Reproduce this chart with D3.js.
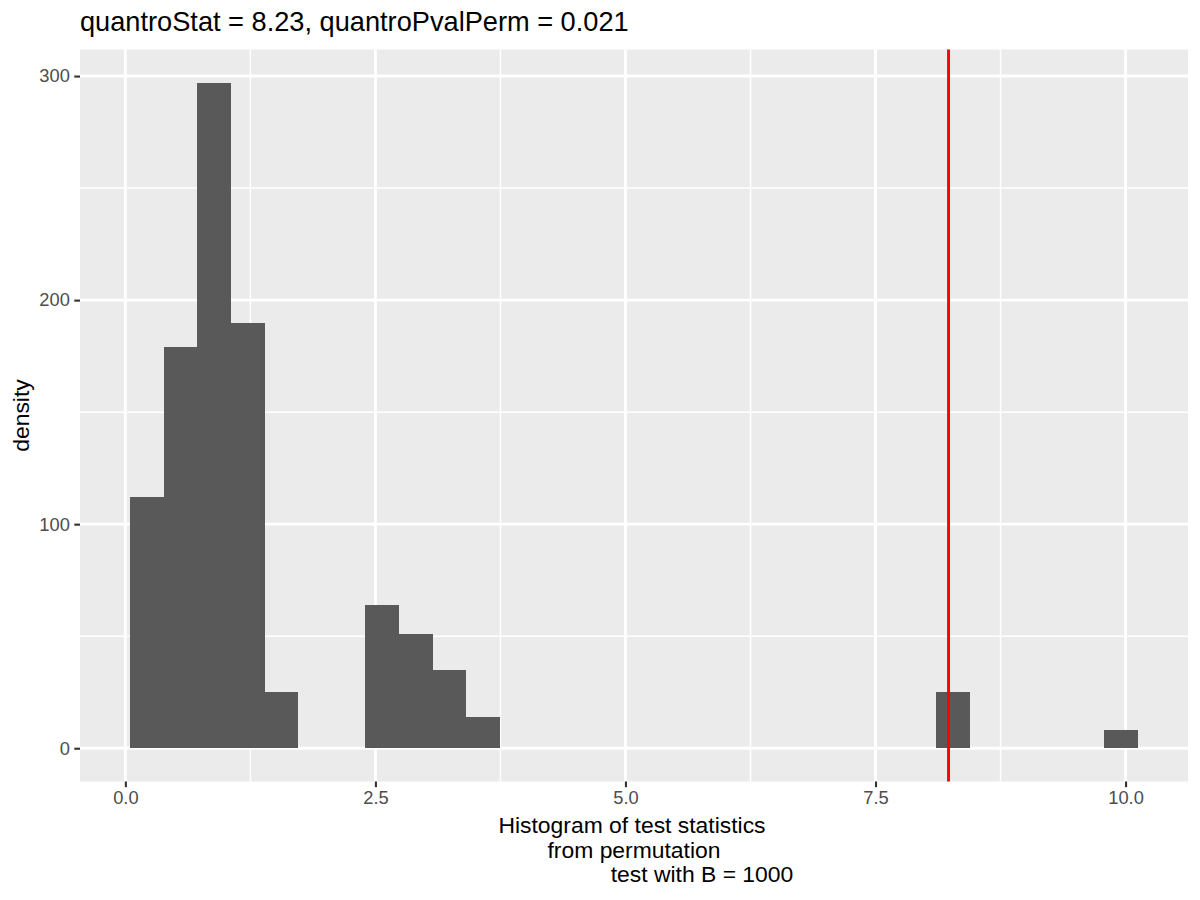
<!DOCTYPE html>
<html lang="en">
<head>
<meta charset="utf-8">
<title>quantro permutation histogram</title>
<script src="https://d3js.org/d3.v7.min.js"></script>
<style>
  body { margin: 0; background: #fff; }
  text { font-family: "Liberation Sans", Arial, sans-serif; }
</style>
</head>
<body>
<script>
// bins (only the non-empty ones)
var binStart = [0.05, 0.386, 0.721, 1.057, 1.393, 2.40, 2.736, 3.071, 3.407, 8.107, 9.785];
var binCount = [112, 179, 297, 190, 25, 64, 51, 35, 14, 25, 8];
var binWidth = 0.3357;
var quantroStat = 8.23;

var xTicks = [0, 2.5, 5, 7.5, 10];
var xMinor = [1.25, 3.75, 6.25, 8.75];
var yTicks = [0, 100, 200, 300];
var yMinor = [50, 150, 250];

var titleText = "quantroStat = 8.23, quantroPvalPerm = 0.021";
var xLabelLines = ["Histogram of test statistics", "from permutation", "test with B = 1000"];

var W = 1200, H = 900;
var panel = { left: 80, right: 1188, top: 49.5, bottom: 781.5 };

var svg = d3.select("body").append("svg")
  .attr("width", W)
  .attr("height", H);

// ggplot style 5% expansion on both scales
var xLo = binStart[0], xHi = binStart[binStart.length - 1] + binWidth;
var xPad = (xHi - xLo) * 0.05;
var x = d3.scaleLinear()
  .domain([xLo - xPad, xHi + xPad])
  .range([panel.left, panel.right]);

var yMax = d3.max(binCount);
var y = d3.scaleLinear()
  .domain([-yMax * 0.05, yMax * 1.05])
  .range([panel.bottom, panel.top]);

svg.append("rect")
  .attr("x", panel.left).attr("y", panel.top)
  .attr("width", panel.right - panel.left)
  .attr("height", panel.bottom - panel.top)
  .attr("fill", "#EBEBEB");

var grid = svg.append("g");
// minor grid
grid.selectAll(".xminor").data(xMinor).enter().append("line")
  .attr("x1", d => x(d)).attr("x2", d => x(d))
  .attr("y1", panel.top).attr("y2", panel.bottom)
  .attr("stroke", "#fff").attr("stroke-width", 1.5);
grid.selectAll(".yminor").data(yMinor).enter().append("line")
  .attr("y1", d => y(d)).attr("y2", d => y(d))
  .attr("x1", panel.left).attr("x2", panel.right)
  .attr("stroke", "#fff").attr("stroke-width", 1.5);
// major grid
grid.selectAll(".xmajor").data(xTicks).enter().append("line")
  .attr("x1", d => x(d)).attr("x2", d => x(d))
  .attr("y1", panel.top).attr("y2", panel.bottom)
  .attr("stroke", "#fff").attr("stroke-width", 2.9);
grid.selectAll(".ymajor").data(yTicks).enter().append("line")
  .attr("y1", d => y(d)).attr("y2", d => y(d))
  .attr("x1", panel.left).attr("x2", panel.right)
  .attr("stroke", "#fff").attr("stroke-width", 2.9);

// bars (crisp edges so neighbouring bins don't show seams)
svg.append("g").selectAll("rect")
  .data(binStart)
  .enter().append("rect")
  .attr("x", d => x(d))
  .attr("width", d => x(d + binWidth) - x(d))
  .attr("y", (d, i) => y(binCount[i]))
  .attr("height", (d, i) => y(0) - y(binCount[i]))
  .attr("fill", "#595959")
  .attr("shape-rendering", "crispEdges");

// observed statistic
svg.append("line")
  .attr("x1", x(quantroStat)).attr("x2", x(quantroStat))
  .attr("y1", panel.top).attr("y2", panel.bottom)
  .attr("stroke", "#FF0000").attr("stroke-width", 2.9);

// axes
var xAxis = d3.axisBottom(x).tickValues(xTicks)
  .tickFormat(d3.format(".1f")).tickSizeOuter(0).tickSize(5.7).tickPadding(4);
var gx = svg.append("g")
  .attr("transform", "translate(0," + panel.bottom + ")")
  .call(xAxis);

var yAxis = d3.axisLeft(y).tickValues(yTicks)
  .tickFormat(d3.format("d")).tickSizeOuter(0).tickSize(5.7).tickPadding(4.5);
var gy = svg.append("g")
  .attr("transform", "translate(" + panel.left + ",0)")
  .call(yAxis);

[gx, gy].forEach(function (g) {
  g.select(".domain").remove();
  g.selectAll(".tick line").attr("stroke", "#333333").attr("stroke-width", 2.1);
  g.selectAll(".tick text")
    .attr("fill", "#4D4D4D")
    .style("font-size", "18.3px")
    .style("font-family", "'Liberation Sans', Arial, sans-serif");
});

// title
svg.append("text")
  .attr("x", panel.left).attr("y", 31)
  .style("font-size", "27.2px")
  .attr("fill", "#000")
  .text(titleText);

// y title
svg.append("text")
  .attr("transform", "translate(29," + ((panel.top + panel.bottom) / 2) + ") rotate(-90)")
  .attr("text-anchor", "middle")
  .style("font-size", "22.9px")
  .attr("fill", "#000")
  .text("density");

// x title, three lines (last one shifted right as in the original label)
var cx = (panel.left + panel.right) / 2;
var lineShift = [-2, 0, 68];
svg.append("g").selectAll("text")
  .data(xLabelLines)
  .enter().append("text")
  .attr("x", (d, i) => cx + lineShift[i])
  .attr("y", (d, i) => 833 + i * 24.6)
  .attr("text-anchor", "middle")
  .style("font-size", "22.9px")
  .attr("fill", "#000")
  .text(d => d);
</script>
</body>
</html>
